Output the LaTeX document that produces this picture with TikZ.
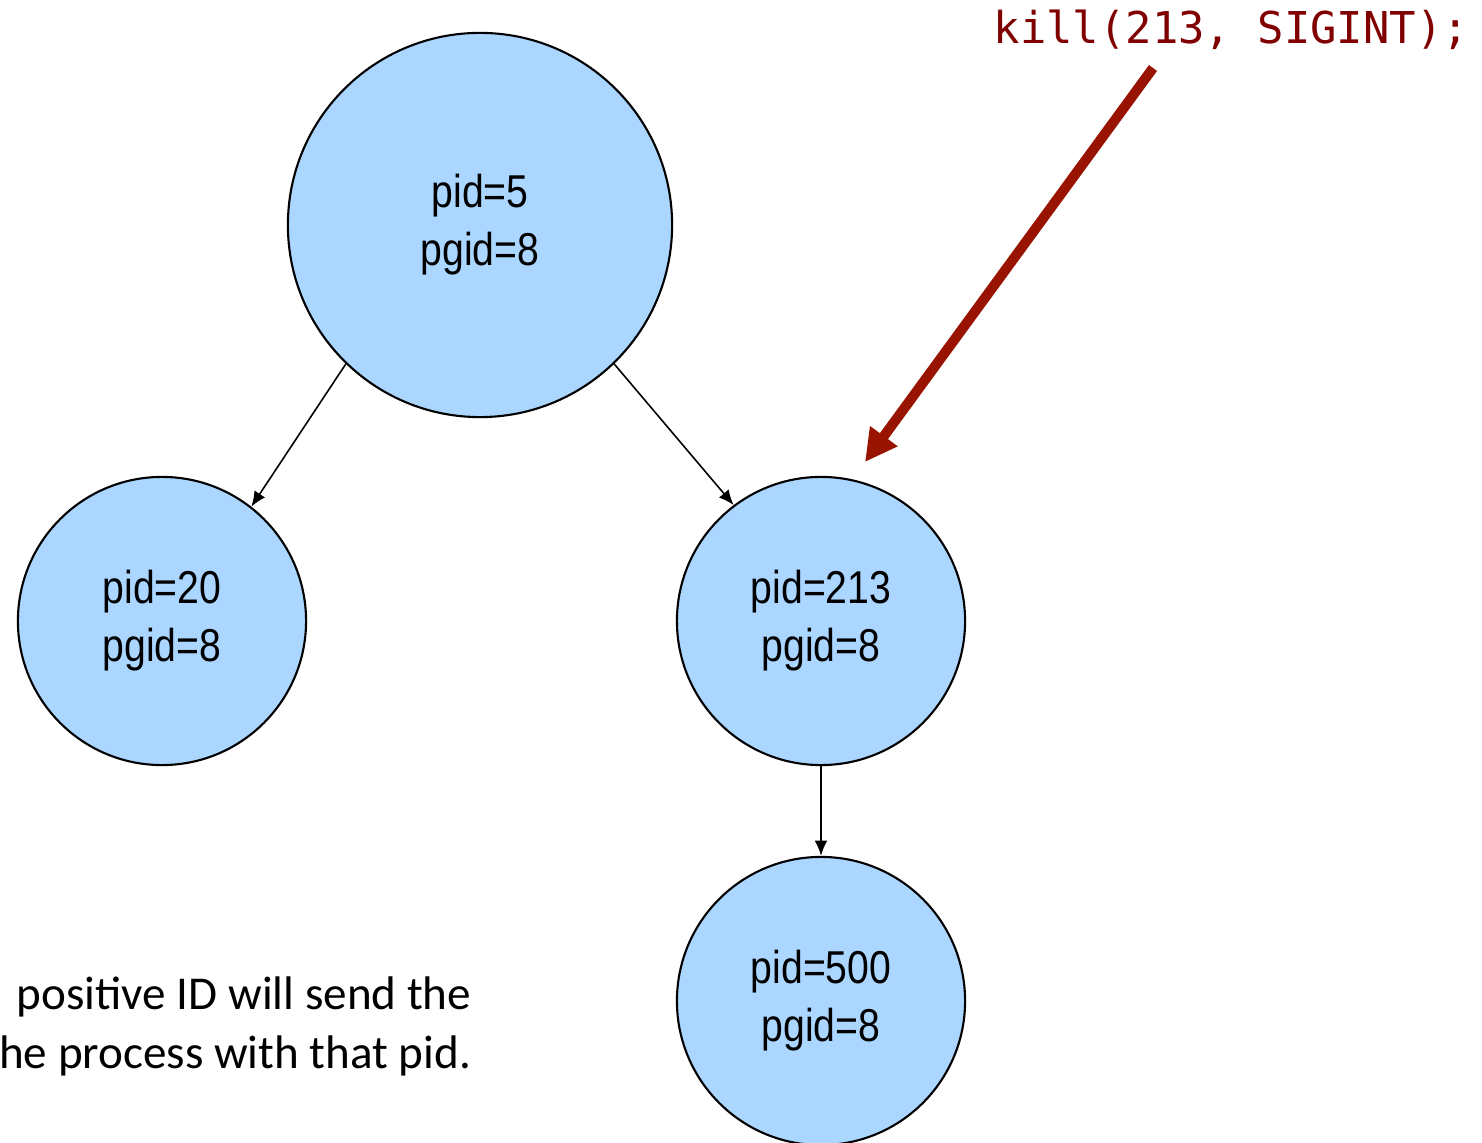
\documentclass[tikz,border=0pt]{standalone}
\usepackage{fontspec}
\setmainfont{Liberation Sans}
\newfontfamily\procfont[FakeStretch=0.85]{Liberation Sans}
\newfontfamily\codefont{DejaVu Sans Mono}
\newfontfamily\notefont{Carlito}
\usetikzlibrary{arrows.meta,positioning,calc}
\definecolor{procblue}{RGB}{170,214,255}
\definecolor{killred}{RGB}{128,0,0}
\definecolor{arrowred}{RGB}{153,20,0}

\begin{document}
\begin{tikzpicture}[x=0.01cm, y=-0.01cm,
    proc/.style={circle, draw, line width=0.6pt, fill=procblue, inner sep=0pt, align=center,
        font=\procfont\fontsize{13.1}{16.5}\selectfont},
    bigproc/.style={proc, minimum size=3.84cm},
    smallproc/.style={proc, minimum size=2.88cm},
    child/.style={-{Latex[length=4.3pt, width=3.6pt]}, line width=0.45pt},
    sigarrow/.style={-{Triangle[length=0.32cm, width=0.32cm]}, line width=0.1cm, arrowred}
]
\useasboundingbox (0,0) rectangle (1482,1143);
\clip (0,0) rectangle (1482,1143);

% Process tree
\node[bigproc] (p5) at (480,225) {pid=5\\pgid=8};
\node[smallproc] (p20) at (162,621) {pid=20\\pgid=8};
\node[smallproc] (p213) at (821,621) {pid=213\\pgid=8};
\node[smallproc] (p500) at (821,1001) {pid=500\\pgid=8};

% Parent -> child
\draw[child] (p5.226) -- (p20.52);
\draw[child] (p5.314) -- (p213.127);
\draw[child] (p213) -- (p500);

% The kill call
\node[text=killred, inner sep=0pt, anchor=base west,
    font=\codefont\fontsize{12.47}{14}\selectfont] (kill) at (993,44) {kill(213, SIGINT);};
\coordinate (src) at (1153,68);
\coordinate (hit) at (865,462);
\draw[sigarrow] (src) -- (hit);

% Note
\node[inner sep=0pt, align=right, anchor=base east,
    font=\notefont\fontsize{13.4}{16.5}\selectfont] (note) at (472,1068)
    {positive ID will send the\\he process with that pid.};

\end{tikzpicture}
\end{document}
